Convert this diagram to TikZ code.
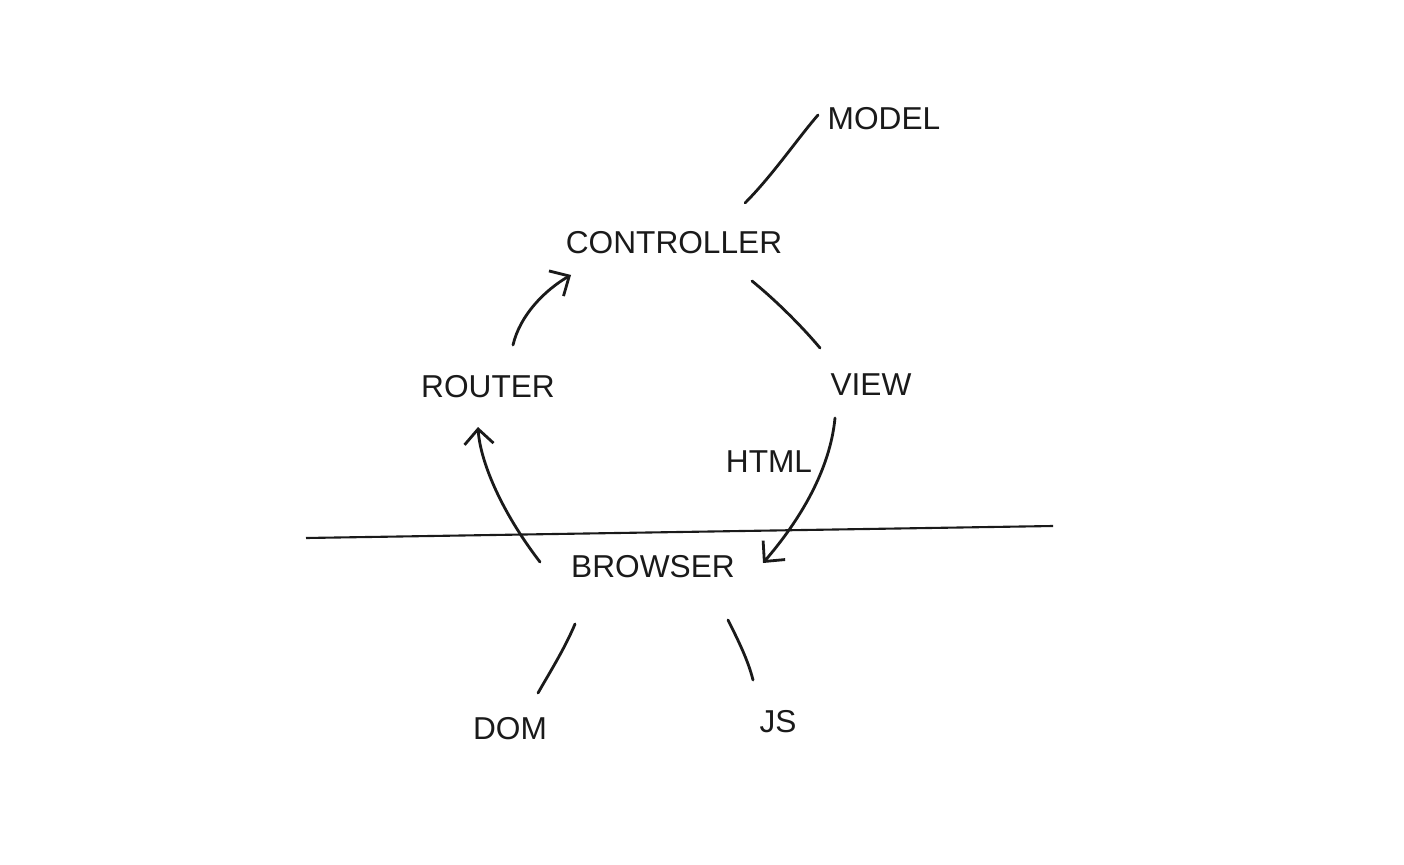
\documentclass[tikz,border=0pt]{standalone}
\usepackage{fontspec}
\setmainfont{Liberation Sans}
\usetikzlibrary{arrows.meta, calc, positioning}
\definecolor{inkBlack}{HTML}{1A1A1A}
\tikzset{
  lbl/.style       = {font=\fontsize{9}{11}\selectfont, inkBlack, inner sep=0pt},
  link/.style      = {inkBlack, line width=0.8pt, line cap=round},
  flowarrow/.style = {link, -{Straight Barb[length=1.5mm, width=2.9mm, line width=0.8pt]}},
  divider/.style   = {inkBlack, line width=0.6pt},
}
\begin{document}
\begin{tikzpicture}[x=0.01cm,y=-0.01cm]
  \useasboundingbox (0,0) rectangle (1404,864);
  % labels
  \node[lbl] (model)   at (884,119) {MODEL};
  \node[lbl] (ctrl)    at (674,243) {CONTROLLER};
  \node[lbl] (router)  at (488,387) {ROUTER};
  \node[lbl] (view)    at (871,385) {VIEW};
  \node[lbl] (html)    at (769,462) {HTML};
  \node[lbl] (browser) at (653,567) {BROWSER};
  \node[lbl] (dom)     at (510,729) {DOM};
  \node[lbl] (js)      at (778,722) {JS};
  % server / client divide
  \coordinate (divL) at (306,538);
  \coordinate (divR) at (1053,526);
  \draw[divider] (divL) -- (divR);
  % connectors
  \draw[link] ([shift={(71,-40)}]ctrl.center) .. controls ([shift={(98,-67)}]ctrl.center) and ([shift={(-86,19)}]model.center) .. ([shift={(-66,-4)}]model.center);
  \draw[link] ([shift={(78,38)}]ctrl.center) .. controls ([shift={(105,60)}]ctrl.center) and ([shift={(-66,-55)}]view.center) .. ([shift={(-51,-37)}]view.center);
  \draw[flowarrow] ([shift={(25,-42)}]router.center) .. controls ([shift={(32,-72)}]router.center) and ([shift={(-129,47)}]ctrl.center) .. ([shift={(-103,32)}]ctrl.center);
  \draw[flowarrow] ([shift={(-113,-5)}]browser.center) .. controls ([shift={(-153,-57)}]browser.center) and ([shift={(-8,73)}]router.center) .. ([shift={(-10,40)}]router.center);
  \draw[flowarrow] ([shift={(-36,33)}]view.center) .. controls ([shift={(-41,85)}]view.center) and ([shift={(147,-47)}]browser.center) .. ([shift={(110,-4)}]browser.center);
  \draw[link] ([shift={(-78,57)}]browser.center) .. controls ([shift={(-88,81)}]browser.center) and ([shift={(40,-57)}]dom.center) .. ([shift={(28,-36)}]dom.center);
  \draw[link] ([shift={(75,53)}]browser.center) .. controls ([shift={(85,73)}]browser.center) and ([shift={(-30,-62)}]js.center) .. ([shift={(-25,-42)}]js.center);
\end{tikzpicture}
\end{document}
